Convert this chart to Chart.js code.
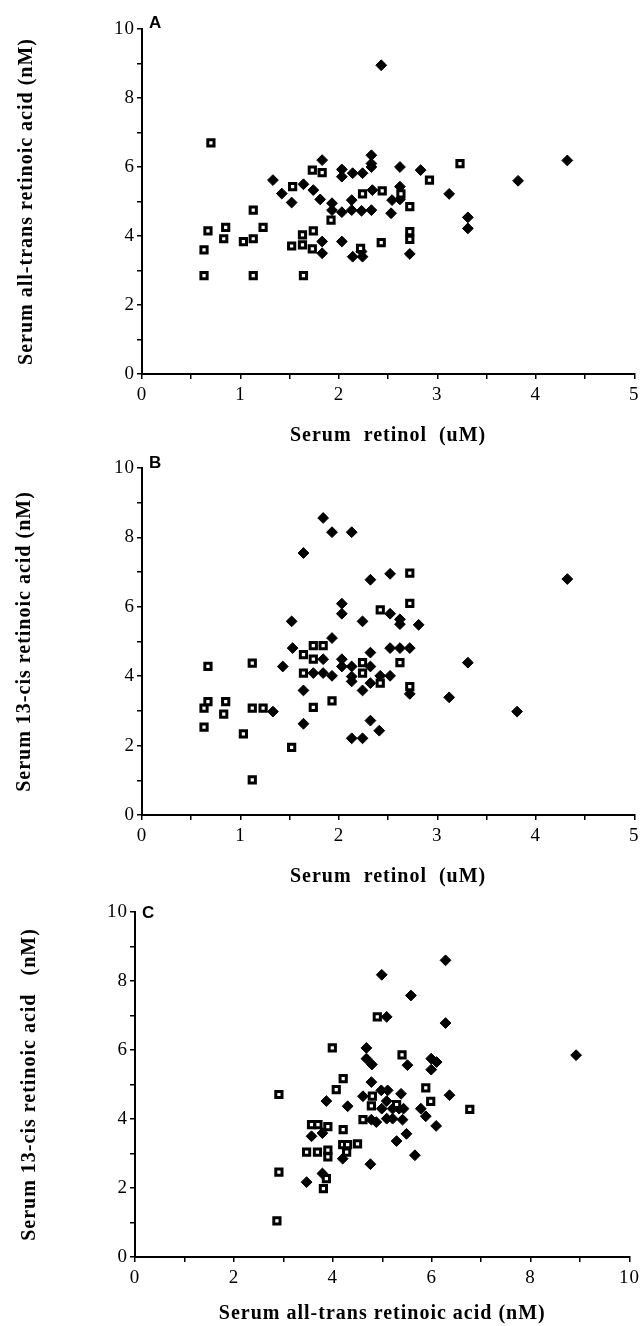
<!DOCTYPE html>
<html>
<head>
<meta charset="utf-8">
<script src="https://cdn.jsdelivr.net/npm/chart.js@4.4.0/dist/chart.umd.min.js"></script>
<style>
  body { margin: 0; background: #fff; width: 644px; height: 1326px; position: relative; overflow: hidden; }
  canvas { position: absolute; left: 0; }
</style>
</head>
<body>
<canvas id="chartA" width="644" height="448" style="top:0px"></canvas>
<canvas id="chartB" width="644" height="441" style="top:448px"></canvas>
<canvas id="chartC" width="644" height="437" style="top:889px"></canvas>
<script>
// Panel A: serum retinol (uM) vs serum all-trans retinoic acid (nM)
var retinolSqA = [0.70, 0.67, 0.63, 0.63, 0.85, 0.83, 1.03, 1.13, 1.13, 1.13, 1.23, 1.53, 1.52, 1.63, 1.63, 1.64,
    1.73, 1.83, 1.74, 1.73, 1.92, 2.24, 2.22, 3.23, 2.92, 2.44, 2.63, 2.72, 2.72, 2.72, 2.43];
var allTransSqA = [6.70, 4.15, 3.60, 2.85, 4.25, 3.92, 3.84, 4.75, 3.92, 2.85, 4.25, 5.43, 3.71, 4.03, 3.74, 2.85,
    5.91, 5.84, 4.15, 3.63, 4.46, 5.22, 3.64, 6.10, 5.62, 5.31, 5.22, 4.85, 4.13, 3.90, 3.81];
var retinolDiaA = [1.33, 1.42, 1.52, 1.64, 1.74, 1.83, 1.81, 1.93, 1.93, 2.03, 2.03, 2.03, 2.14, 2.24, 2.13, 2.13,
    2.23, 2.33, 2.33, 2.33, 2.33, 2.34, 1.83, 1.83, 2.03, 2.14, 2.24, 2.23, 2.43, 2.62, 2.83, 4.32, 3.82, 2.62,
    2.54, 2.62, 2.53, 3.12, 3.31, 3.31, 2.72];
var allTransDiaA = [5.62, 5.23, 4.97, 5.50, 5.33, 6.20, 5.06, 4.95, 4.75, 5.93, 5.72, 4.69, 5.82, 5.82, 5.04, 4.75,
    4.73, 6.34, 6.10, 6.00, 4.75, 5.33, 3.84, 3.50, 3.84, 3.40, 3.40, 3.55, 8.95, 6.00, 5.91, 6.19, 5.60, 5.43,
    5.04, 5.06, 4.66, 5.22, 4.54, 4.22, 3.48];

// Panel B: serum retinol (uM) vs serum 13-cis retinoic acid (nM)
var retinolSqB = [0.67, 0.63, 0.67, 0.63, 0.85, 0.83, 1.03, 1.12, 1.12, 1.23, 1.12, 1.52, 1.64, 1.64, 1.74, 1.74,
    1.84, 1.74, 1.93, 2.24, 2.24, 2.72, 2.72, 2.42, 2.62, 2.42, 2.72];
var cisSqB = [4.28, 3.08, 3.27, 2.53, 3.27, 2.91, 2.34, 4.38, 3.08, 3.08, 1.01, 1.95, 4.62, 4.09, 4.88, 4.49,
    4.88, 3.10, 3.29, 4.39, 4.09, 6.97, 6.10, 5.91, 4.39, 3.80, 3.70];
var retinolDiaB = [1.52, 1.53, 1.43, 1.33, 1.64, 1.84, 1.93, 2.13, 1.64, 1.64, 1.74, 1.84, 1.84, 1.93, 1.93, 2.03,
    2.03, 2.03, 2.03, 2.13, 2.13, 2.13, 2.13, 2.24, 2.24, 2.24, 2.32, 2.32, 2.32, 2.32, 2.32, 2.41, 2.52, 4.32,
    2.52, 2.62, 2.62, 2.81, 2.52, 2.62, 2.72, 3.31, 2.42, 2.52, 2.72, 3.12, 3.81];
var cisDiaB = [5.58, 4.81, 4.28, 2.98, 7.55, 8.56, 8.15, 8.15, 3.59, 2.63, 4.09, 4.49, 4.09, 4.01, 5.10, 6.09,
    5.80, 4.49, 4.28, 4.28, 3.99, 3.85, 2.21, 2.21, 5.58, 3.59, 6.78, 4.68, 4.28, 3.80, 2.72, 2.43, 6.95, 6.80,
    5.80, 5.64, 5.50, 5.48, 4.81, 4.81, 4.81, 4.39, 4.01, 4.01, 3.49, 3.39, 2.98];

// Panel C: serum all-trans retinoic acid (nM) vs serum 13-cis retinoic acid (nM)
var allTransSqC = [2.91, 2.91, 2.87, 3.47, 3.69, 3.57, 3.70, 3.90, 3.90, 3.81, 3.87, 3.90, 3.99, 4.07, 4.21, 4.21,
    4.20, 4.30, 4.28, 4.50, 4.61, 4.80, 4.90, 5.40, 5.88, 5.98, 6.77, 4.78, 5.29];
var cisSqC = [4.71, 2.46, 1.05, 3.04, 3.04, 3.84, 3.84, 3.10, 2.90, 1.98, 2.27, 3.78, 6.06, 4.85, 5.17, 3.69,
    3.26, 3.26, 3.04, 3.28, 3.98, 4.66, 6.96, 5.86, 4.90, 4.51, 4.28, 4.38, 4.42];
var allTransDiaC = [3.47, 3.57, 3.79, 3.87, 3.79, 4.20, 4.30, 4.61, 4.68, 4.68, 4.79, 4.78, 4.78, 4.88, 4.76, 6.28,
    4.99, 5.58, 5.09, 6.28, 8.92, 5.51, 5.99, 6.10, 5.99, 4.98, 5.11, 5.38, 6.36, 5.09, 4.99, 5.21, 5.34, 5.43,
    5.78, 5.88, 5.09, 5.21, 5.41, 6.09, 5.49, 5.29, 5.66];
var cisDiaC = [2.17, 3.50, 3.59, 4.52, 2.42, 2.85, 4.37, 4.66, 6.06, 5.75, 5.58, 5.07, 3.98, 3.91, 2.69, 8.60,
    8.18, 7.58, 6.96, 6.78, 5.85, 5.56, 5.75, 5.65, 5.43, 4.83, 4.83, 4.73, 4.69, 4.52, 4.30, 4.30, 4.30, 4.30,
    4.30, 4.08, 4.01, 4.01, 3.98, 3.80, 3.57, 3.36, 2.95];

// tick labels
var retinolTicks = [0, 1, 2, 3, 4, 5];
var acidTicks = [0, 2, 4, 6, 8, 10];

var serif = '"Liberation Serif", "Times New Roman", serif';

function pts(xs, ys) {
    return xs.map(function (x, i) { return { x: x, y: ys[i] }; });
}

// panel letter (A, B, C) and the wide letter spacing of the scanned labels
var panelLetter = {
    id: 'panelLetter',
    beforeDraw: function (chart) {
        chart.ctx.letterSpacing = '1px';
    },
    afterDraw: function (chart, args, opts) {
        var ctx = chart.ctx;
        var area = chart.chartArea;
        ctx.save();
        ctx.letterSpacing = '0px';
        ctx.font = 'bold 17px "Liberation Sans", Arial, sans-serif';
        ctx.fillStyle = '#000';
        ctx.textBaseline = 'middle';
        ctx.fillText(opts.text, area.left + 7, area.top + opts.dy);
        ctx.restore();
    }
};

function axisStyle() {
    return {
        grid: { display: true, drawOnChartArea: false, drawTicks: true, tickLength: 5, color: '#000', lineWidth: 1.5 },
        border: { display: true, color: '#000', width: 2 }
    };
}

function buildChart(id, cfg) {
    var xs = axisStyle();
    var ys = axisStyle();
    return new Chart(document.getElementById(id), {
        type: 'scatter',
        data: {
            datasets: [{
                label: 'open',
                data: cfg.squares,
                pointStyle: 'rect',
                pointRadius: 4.4,
                backgroundColor: '#fff',
                borderColor: '#000',
                borderWidth: 3
            }, {
                label: 'filled',
                data: cfg.diamonds,
                pointStyle: 'rectRot',
                pointRadius: 5.4,
                backgroundColor: '#000',
                borderColor: '#000',
                borderWidth: 1
            }]
        },
        options: {
            responsive: false,
            animation: false,
            events: [],
            layout: { padding: cfg.padding },
            plugins: {
                legend: { display: false },
                tooltip: { enabled: false },
                panelLetter: { text: cfg.letter, dy: cfg.letterDy }
            },
            scales: {
                x: {
                    type: 'linear',
                    min: 0,
                    max: cfg.xMax,
                    grid: xs.grid,
                    border: xs.border,
                    ticks: {
                        stepSize: cfg.xStep,
                        autoSkip: false,
                        maxRotation: 0,
                        padding: 5,
                        color: '#000',
                        font: { family: serif, size: 19 },
                        callback: function (v) { return cfg.xLabels.indexOf(v) >= 0 ? String(v) : ''; }
                    },
                    title: {
                        display: true,
                        text: cfg.xTitle,
                        color: '#000',
                        padding: 0,
                        font: { family: serif, size: 20, weight: 'bold' }
                    },
                    afterFit: function (scale) { scale.height = cfg.xHeight; }
                },
                y: {
                    type: 'linear',
                    min: 0,
                    max: 10,
                    grid: ys.grid,
                    border: ys.border,
                    ticks: {
                        stepSize: 1,
                        autoSkip: false,
                        padding: 2,
                        color: '#000',
                        font: { family: serif, size: 19 },
                        callback: function (v) { return acidTicks.indexOf(v) >= 0 ? String(v) : ''; }
                    },
                    title: {
                        display: true,
                        text: cfg.yTitle,
                        color: '#000',
                        padding: { top: cfg.yTitlePad, bottom: 0 },
                        font: { family: serif, size: 20, weight: 'bold' }
                    },
                    afterFit: function (scale) { scale.width = cfg.yWidth; }
                }
            }
        },
        plugins: [panelLetter]
    });
}

buildChart('chartA', {
    squares: pts(retinolSqA, allTransSqA),
    diamonds: pts(retinolDiaA, allTransDiaA),
    letter: 'A', letterDy: -6,
    xMax: 5, xStep: 0.5, xLabels: retinolTicks,
    xTitle: 'Serum  retinol  (uM)',
    yTitle: 'Serum all-trans retinoic acid (nM)',
    padding: { top: 29, right: 7, bottom: 0, left: 0 },
    xHeight: 74, yWidth: 142, yTitlePad: 15
});

buildChart('chartB', {
    squares: pts(retinolSqB, cisSqB),
    diamonds: pts(retinolDiaB, cisDiaB),
    letter: 'B', letterDy: -5,
    xMax: 5, xStep: 0.5, xLabels: retinolTicks,
    xTitle: 'Serum  retinol  (uM)',
    yTitle: 'Serum 13-cis retinoic acid (nM)',
    padding: { top: 20, right: 7, bottom: 0, left: 0 },
    xHeight: 74, yWidth: 142, yTitlePad: 13
});

buildChart('chartC', {
    squares: pts(allTransSqC, cisSqC),
    diamonds: pts(allTransDiaC, cisDiaC),
    letter: 'C', letterDy: 1,
    xMax: 10, xStep: 1, xLabels: acidTicks,
    xTitle: 'Serum all-trans retinoic acid (nM)',
    yTitle: 'Serum 13-cis retinoic acid   (nM)',
    padding: { top: 23, right: 10, bottom: 0, left: 0 },
    xHeight: 69, yWidth: 135, yTitlePad: 18
});
</script>
</body>
</html>
